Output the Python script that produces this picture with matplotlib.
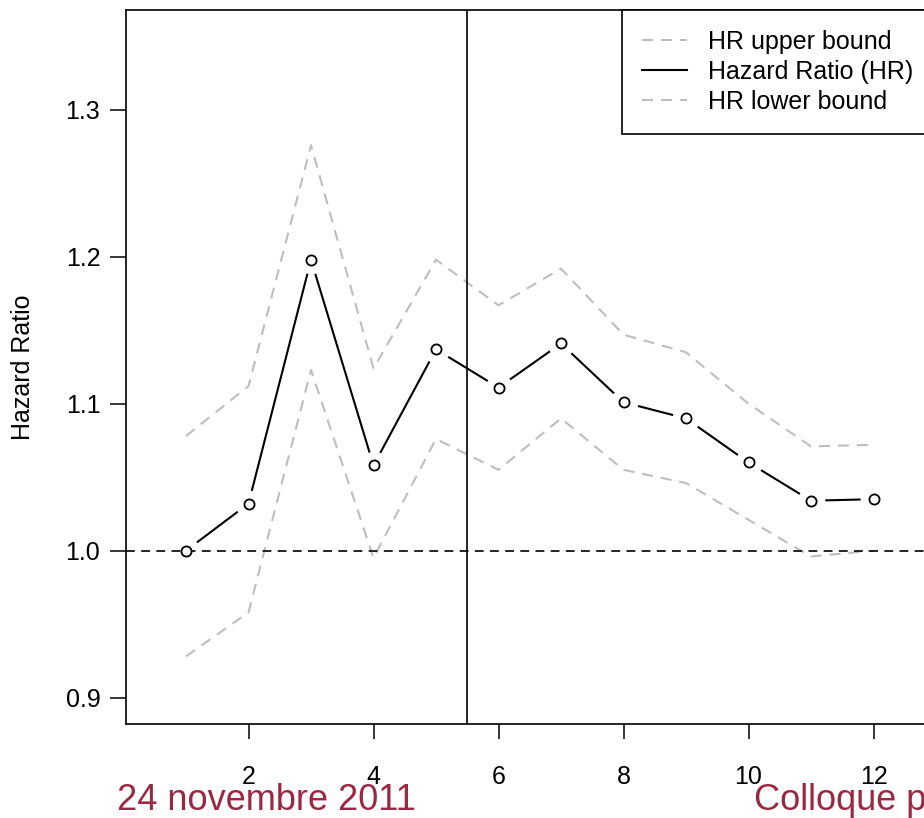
"""Hazard ratio by period with upper and lower bounds (slide crop)."""

import matplotlib

matplotlib.use("Agg")

import matplotlib.pyplot as plt


periods = [1, 2, 3, 4, 5, 6, 7, 8, 9, 10, 11, 12]
hazard_ratio = [1.000, 1.032, 1.198, 1.058, 1.137, 1.111,
                1.141, 1.101, 1.090, 1.060, 1.034, 1.035]
hr_upper = [1.078, 1.112, 1.276, 1.124, 1.198, 1.167,
            1.192, 1.147, 1.135, 1.100, 1.071, 1.072]
hr_lower = [0.928, 0.958, 1.123, 0.995, 1.076, 1.055,
            1.090, 1.055, 1.046, 1.021, 0.996, 1.000]
x_ticks = [2, 4, 6, 8, 10, 12]
y_ticks = [0.9, 1.0, 1.1, 1.2, 1.3]
reference_level = 1.0
split_period = 5.5
footer_left = "24 novembre 2011"
footer_right = "Colloque p"

FONT = ["Liberation Sans", "DejaVu Sans"]
FOOTER_COLOR = "#9b2743"
GREY = "#bebebe"

plt.rcParams["font.family"] = FONT

W, H = 924, 818
fig = plt.figure(figsize=(W / 100, H / 100), dpi=100)

# The slide is cropped: the plot region runs past the right edge.
left, right, bottom, top = 126, 1746, 724, 10
ax = fig.add_axes([left / W, (H - bottom) / H, (right - left) / W, (bottom - top) / H])
ax.set_xlim(0.04, 25.96)
ax.set_ylim(0.882, 1.368)

dash = (5.3, 3.8)

# Bounds
ax.plot(periods, hr_upper, color=GREY, lw=1.5, dashes=dash, zorder=3,
        label="HR upper bound")
# Hazard ratio, R type "b": line broken around each point
ax.plot(periods, hazard_ratio, color="black", lw=1.5, zorder=2,
        label="Hazard Ratio (HR)")
ax.plot(periods, hr_lower, color=GREY, lw=1.5, dashes=dash, zorder=3,
        label="HR lower bound")
ax.plot(periods, hazard_ratio, ls="none", marker="o", ms=20,
        mfc="white", mec="none", zorder=2.5)
ax.plot(periods, hazard_ratio, ls="none", marker="o", ms=7.3, mfc="white",
        mec="black", mew=1.3, zorder=4)

ax.axhline(reference_level, color="black", lw=1.2, dashes=dash, zorder=3)
ax.axvline(split_period, color="black", lw=1.2, zorder=3)

for spine in ax.spines.values():
    spine.set_linewidth(1.2)

ax.set_xticks(x_ticks)
ax.set_yticks(y_ticks)
ax.set_yticklabels([f"{v:.1f}" for v in y_ticks])
ax.tick_params(axis="x", length=11, width=1.1, pad=18.5, labelsize=18)
ax.tick_params(axis="y", length=11.5, width=1.1, pad=7, labelsize=18)

ax.set_ylabel("Hazard Ratio", fontsize=18)
ax.yaxis.set_label_coords((35 - left) / (right - left), 0.5)

legend = ax.legend(
    loc="upper left",
    bbox_to_anchor=((622 - left) / (right - left), 1.0),
    borderaxespad=0,
    fontsize=18,
    frameon=True,
    fancybox=False,
    edgecolor="black",
    framealpha=1,
    borderpad=0.8,
    labelspacing=0.24,
    handlelength=1.8,
    handletextpad=0.85,
)
legend.get_frame().set_linewidth(1.2)

fig.text(117 / W, (H - 810) / H, footer_left, fontsize=26, color=FOOTER_COLOR,
         va="baseline", ha="left")
fig.text(754 / W, (H - 810) / H, footer_right, fontsize=26, color=FOOTER_COLOR,
         va="baseline", ha="left")

fig.savefig("out.png", dpi=100)
